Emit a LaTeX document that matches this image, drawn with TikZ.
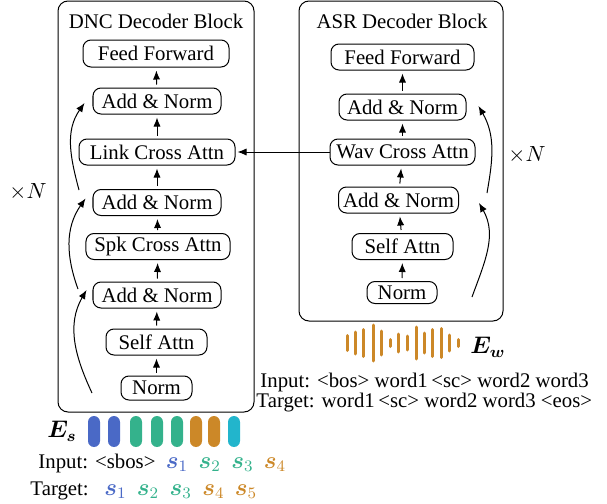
\documentclass[tikz,border=0pt]{standalone}
\usepackage{amsmath}
\usepackage{amsfonts}
\usepackage{fontspec}
\setmainfont{Liberation Serif}
\usepackage{tikz}
\usetikzlibrary{arrows.meta}
\definecolor{sblue}{RGB}{74,105,198}
\definecolor{sgreen}{RGB}{52,178,140}
\definecolor{sorange}{RGB}{204,136,40}
\definecolor{scyan}{RGB}{34,181,204}
\newcommand{\spk}[2]{\textcolor{#1}{\fontsize{11.5}{13}\selectfont$\boldsymbol{s}_{#2}$}}

\begin{document}
\begin{tikzpicture}[x=0.5pt, y=-0.5pt, >={Latex[length=4.5pt, width=3.6pt]}, line width=0.5pt,
  font=\fontsize{10.4}{12}\selectfont,
  blk/.style={draw, rounded corners=4pt, inner sep=0pt, minimum height=13pt},
  up/.style={->, shorten >=1.5pt, shorten <=1.5pt}]
\useasboundingbox (0,0) rectangle (607,504);
\draw[rounded corners=5pt] (58,1) rectangle (254,412);
\draw[rounded corners=5pt] (299,1) rectangle (503,321);
\node[anchor=base] (td) at (156,28) {DNC Decoder Block};
\node[anchor=base] (ta) at (402,28) {ASR Decoder Block};
\node[blk, minimum width=73pt, minimum height=13.5pt] (ffl) at (156,53.5) {Feed Forward};
\node[blk, minimum width=64pt] (anl3) at (157,101) {Add \& Norm};
\node[blk, minimum width=78pt] (lca) at (157,152) {Link Cross Attn};
\node[blk, minimum width=64pt] (anl2) at (157,202.5) {Add \& Norm};
\node[blk, minimum width=72pt] (sca) at (158,246.5) {Spk Cross Attn};
\node[blk, minimum width=64pt] (anl1) at (157,295) {Add \& Norm};
\node[blk, minimum width=50.5pt] (sal) at (156.5,342) {Self Attn};
\node[blk, minimum width=35.5pt, minimum height=12pt] (nl) at (156.5,388) {Norm};
\node[blk, minimum width=71.5pt] (ffr) at (402.5,57) {Feed Forward};
\node[blk, minimum width=63.5pt] (anr2) at (402.5,107) {Add \& Norm};
\node[blk, minimum width=72.5pt] (wca) at (402.5,152) {Wav Cross Attn};
\node[blk, minimum width=60pt] (anr1) at (398.5,200) {Add \& Norm};
\node[blk, minimum width=50.5pt] (sar) at (402.5,246.5) {Self Attn};
\node[blk, minimum width=35pt, minimum height=11pt] (nr) at (402,292.5) {Norm};
\draw[up] (nl) -- (sal);
\draw[up] (sal) -- (anl1);
\draw[up] (anl1) -- (sca);
\draw[up] (sca) -- (anl2);
\draw[up] (anl2) -- (lca);
\draw[up] (lca) -- (anl3);
\draw[up] (anl3) -- (ffl);
\draw[up] (nr) -- (sar);
\draw[up] (sar) -- (anr1);
\draw[up] (anr1) -- (wca);
\draw[up] (wca) -- (anr2);
\draw[up] (anr2) -- (ffr);
\draw[->, shorten >=1pt] (wca) -- (lca);
\coordinate (r1) at (92,393);
\coordinate (r2) at (78,289);
\coordinate (r3) at (79,190);
\coordinate (q1) at (472,297);
\coordinate (q2) at (487,193);
\draw[->] (r1) to[out=115, in=-120] ([xshift=-3pt, yshift=2.5pt]anl1.west);
\draw[->] (r2) to[out=110, in=-125] ([xshift=-3.5pt, yshift=2pt]anl2.west);
\draw[->] (r3) to[out=105, in=-125] ([xshift=-4pt, yshift=-1pt]anl3.west);
\draw[->] (q1) to[out=70, in=-60] ([xshift=10pt, yshift=-1.5pt]anr1.east);
\draw[->] (q2) to[out=80, in=-60] ([xshift=6pt, yshift=0.5pt]anr2.east);
\node[anchor=base] (nxl) at (28,198) {\fontsize{11}{13}\selectfont$\times N$};
\node[anchor=base] (nxr) at (527,161) {\fontsize{11}{13}\selectfont$\times N$};
\foreach \x/\h in {347/18,355/25,363/30,373/39,381/27,390/10,398/21,407/17,416/35,424/23,432/30,441/32,449/19,458/10}
  \draw[sorange, line width=1.5pt, line cap=round] (\x,{343-\h/2+1.5}) -- (\x,{343+\h/2-1.5});
\node (ew) at (488,347) {\fontsize{12}{14}\selectfont$\boldsymbol{E_w}$};
\foreach \x/\c in {94/sblue,114/sblue,136/sgreen,157/sgreen,177/sgreen,196/sorange,214/sorange,234/scyan}
  \fill[\c, rounded corners=3pt] ({\x-6},416) rectangle ({\x+6},447);
\node (es) at (62,431) {\fontsize{12}{14}\selectfont$\boldsymbol{E_s}$};
\node[anchor=base west, inner sep=0pt] (inw) at (260,387) {Input: <bos> word1\,<sc> word2 word3};
\node[anchor=base west, inner sep=0pt] (tgw) at (256,407) {Target: word1\,<sc> word2 word3 <eos>};
\node[anchor=base west, inner sep=0pt] (ins) at (38,468) {Input: <sbos>\enspace\spk{sblue}{1}\enspace\spk{sgreen}{2}\enspace\spk{sgreen}{3}\enspace\spk{sorange}{4}};
\node[anchor=base west, inner sep=0pt] (tgs) at (30,495) {Target:~\enspace\spk{sblue}{1}\enspace\spk{sgreen}{2}\enspace\spk{sgreen}{3}\enspace\spk{sorange}{4}\enspace\spk{sorange}{5}};
\end{tikzpicture}
\end{document}
